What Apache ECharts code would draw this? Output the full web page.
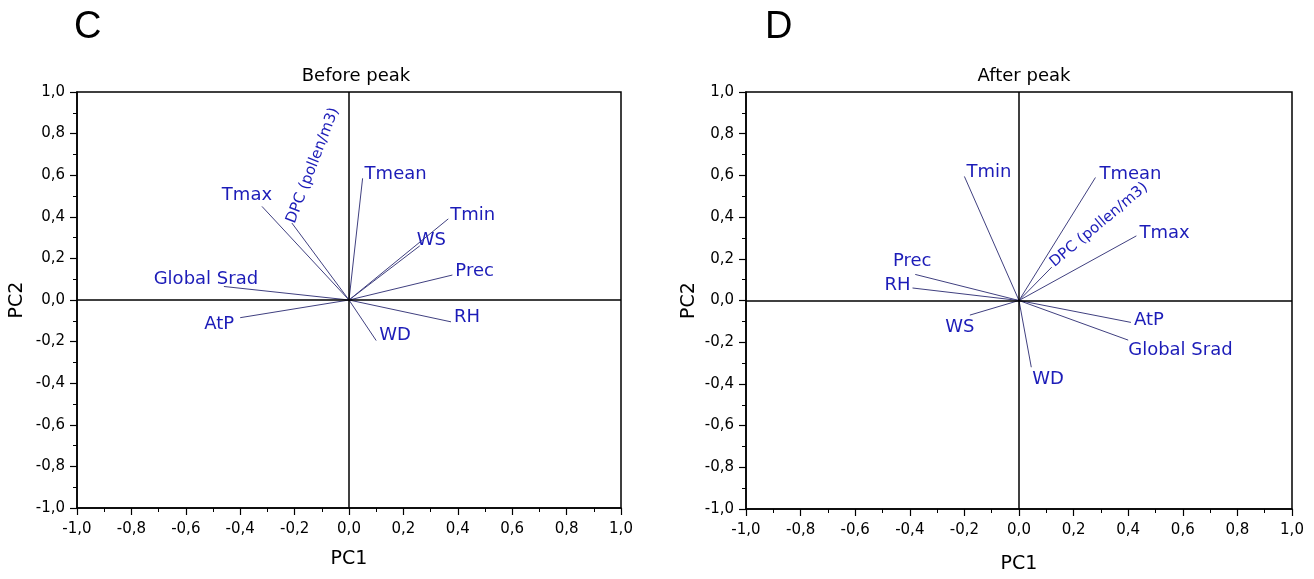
<!DOCTYPE html>
<html>
<head>
<meta charset="utf-8">
<script src="https://cdn.jsdelivr.net/npm/echarts@6/dist/echarts.min.js"></script>
<style>html,body{margin:0;padding:0;background:#fff;}#c{width:1314px;height:579px;}</style>
</head>
<body>
<div id="c"></div>
<script>
// ---- data ----
const varsBefore = ['Tmax','DPC (pollen/m3)','Global Srad','AtP','Tmean','Tmin','WS','Prec','RH','WD'];
const pc1Before  = [-0.32, -0.21, -0.46, -0.40, 0.05, 0.365, 0.26, 0.38, 0.375, 0.10];
const pc2Before  = [0.45, 0.37, 0.065, -0.085, 0.585, 0.39, 0.26, 0.12, -0.105, -0.195];

const varsAfter = ['Tmin','Prec','RH','WS','Tmean','DPC (pollen/m3)','Tmax','AtP','Global Srad','WD'];
const pc1After  = [-0.20, -0.38, -0.39, -0.18, 0.28, 0.12, 0.43, 0.41, 0.40, 0.045];
const pc2After  = [0.595, 0.125, 0.06, -0.07, 0.59, 0.16, 0.31, -0.105, -0.19, -0.32];

const axisTicks = [-1.0,-0.8,-0.6,-0.4,-0.2,0.0,0.2,0.4,0.6,0.8,1.0];
const panelTitles = ['Before peak','After peak'];
const panelLetters = ['C','D'];

// ---- label placement (presentation only) ----
const placeBefore = {
  'Tmax':{align:'center',offset:[-15,-11]},
  'DPC (pollen/m3)':{align:'left',offset:[0,-1],rotate:69,small:true},
  'Global Srad':{align:'center',offset:[-18,-7]},
  'AtP':{align:'right',offset:[-6,7]},
  'Tmean':{align:'left',offset:[2,-4]},
  'Tmin':{align:'left',offset:[2,-4]},
  'WS':{align:'left',offset:[-3,-6]},
  'Prec':{align:'left',offset:[3,-4]},
  'RH':{align:'left',offset:[3,-5]},
  'WD':{align:'left',offset:[3,-5]}
};
const placeAfter = {
  'Tmin':{align:'left',offset:[2,-4]},
  'Prec':{align:'center',offset:[-3,-13]},
  'RH':{align:'right',offset:[-2,-3]},
  'WS':{align:'center',offset:[-10,12]},
  'Tmean':{align:'left',offset:[4,-3]},
  'DPC (pollen/m3)':{align:'left',offset:[2,-2],rotate:40,small:true},
  'Tmax':{align:'left',offset:[3,-3]},
  'AtP':{align:'left',offset:[3,-2]},
  'Global Srad':{align:'left',offset:[0,10]},
  'WD':{align:'left',offset:[1,12]}
};

const FONT = 'DejaVu Sans';
const LBL = '#1c1cb8';
const VEC = '#404080';
const fmt = v => v.toFixed(1).replace('.', ',');

const grids = [
  {left:77, top:92, width:544, height:416, show:true, borderColor:'#000', borderWidth:1.5, backgroundColor:'#fff'},
  {left:746, top:92, width:546, height:419, show:true, borderColor:'#000', borderWidth:1.5, backgroundColor:'#fff'}
];

function mkX(i, gap){
  return {gridIndex:i, type:'value', min:axisTicks[0], max:axisTicks[axisTicks.length-1], interval:0.2,
    name:'PC1', nameLocation:'middle', nameGap:gap,
    nameTextStyle:{fontFamily:FONT, fontSize:19, color:'#000'},
    axisLine:{show:true, onZero:false, lineStyle:{color:'#000', width:1.5}},
    axisTick:{show:true, inside:false, length:7, lineStyle:{color:'#000', width:1.2}},
    minorTick:{show:true, splitNumber:2, length:4, lineStyle:{color:'#000', width:1}},
    splitLine:{show:false},
    axisLabel:{fontFamily:FONT, fontSize:15, color:'#000', margin:14, formatter:fmt, showMinLabel:true, showMaxLabel:true}
  };
}
function mkY(i, gap){
  return {gridIndex:i, type:'value', min:axisTicks[0], max:axisTicks[axisTicks.length-1], interval:0.2,
    name:'PC2', nameLocation:'middle', nameGap:gap, nameRotate:90,
    nameTextStyle:{fontFamily:FONT, fontSize:19, color:'#000'},
    axisLine:{show:true, onZero:false, lineStyle:{color:'#000', width:1.5}},
    axisTick:{show:true, inside:false, length:7, lineStyle:{color:'#000', width:1.2}},
    minorTick:{show:true, splitNumber:2, length:4, lineStyle:{color:'#000', width:1}},
    splitLine:{show:false},
    axisLabel:{fontFamily:FONT, fontSize:15, color:'#000', margin:12, formatter:fmt, showMinLabel:true, showMaxLabel:true}
  };
}

const series = [];
function addPanel(gi, names, xs, ys, place){
  // crosshair at zero
  series.push({type:'line', xAxisIndex:gi, yAxisIndex:gi, data:[], silent:true,
    markLine:{silent:true, symbol:['none','none'], label:{show:false},
      lineStyle:{color:'#000', width:1.5, type:'solid'},
      data:[{xAxis:0},{yAxis:0}]}});
  names.forEach((n, k) => {
    series.push({type:'line', xAxisIndex:gi, yAxisIndex:gi, symbol:'none', silent:true,
      lineStyle:{color:VEC, width:1}, data:[[0,0],[xs[k], ys[k]]], z:3});
  });
  series.push({type:'scatter', xAxisIndex:gi, yAxisIndex:gi, symbolSize:0, silent:true, z:4,
    itemStyle:{opacity:1, color:LBL},
    data: names.map((n,k) => {
      const p = place[n];
      return {value:[xs[k], ys[k]], name:n,
        label:{show:true, position:'inside', formatter:n, color:LBL, opacity:1, fontFamily:FONT,
          fontSize: p.small ? 15 : 18, align:p.align, verticalAlign:'middle',
          offset:p.offset, rotate:p.rotate || 0}};
    })});
}
addPanel(0, varsBefore, pc1Before, pc2Before, placeBefore);
addPanel(1, varsAfter, pc1After, pc2After, placeAfter);

const option = {
  animation:false,
  backgroundColor:'#fff',
  title:[
    {text:panelLetters[0], left:69, top:4, textStyle:{fontFamily:'Liberation Sans', fontSize:38, fontWeight:'normal', color:'#000'}},
    {text:panelLetters[1], left:760, top:4, textStyle:{fontFamily:'Liberation Sans', fontSize:38, fontWeight:'normal', color:'#000'}},
    {text:panelTitles[0], left:351, textAlign:'center', top:62, textStyle:{fontFamily:FONT, fontSize:18, fontWeight:'normal', color:'#000'}},
    {text:panelTitles[1], left:1019, textAlign:'center', top:62, textStyle:{fontFamily:FONT, fontSize:18, fontWeight:'normal', color:'#000'}}
  ],
  grid:grids,
  xAxis:[mkX(0,42), mkX(1,46)],
  yAxis:[mkY(0,50), mkY(1,47)],
  series:series
};
const chart = echarts.init(document.getElementById('c'), null, {renderer:'canvas'});
chart.setOption(option);
</script>
</body>
</html>
